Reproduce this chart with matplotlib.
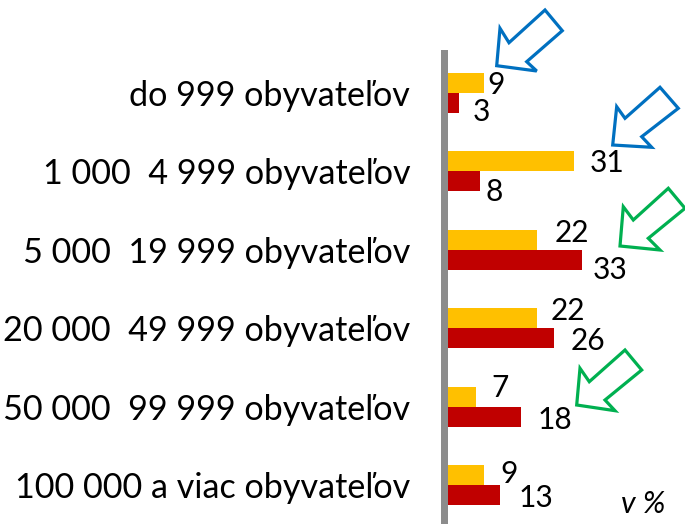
import matplotlib
matplotlib.use('Agg')
import matplotlib.pyplot as plt
from matplotlib.patches import Polygon

# kategorie (velkost obce) a hodnoty v %
kategorie = ['do 999 obyvateľov', '1 000  4 999 obyvateľov', '5 000  19 999 obyvateľov',
             '20 000  49 999 obyvateľov', '50 000  99 999 obyvateľov', '100 000 a viac obyvateľov']
oranzova = [9, 31, 22, 22, 7, 9]
cervena = [3, 8, 33, 26, 18, 13]

# posuny popiskov v pixeloch (x medzera, y baseline pod stredom stlpca)
or_dx = [3, 16, 17, 13, 16, 16]
or_dy = [11, 11, 2, 2, 0, 8]
cv_dx = [13, 6, 10, 17, 17, 18]
cv_dy = [18, 20, 19, 12, 12, 12]

W, H = 685, 524
FONT = 'Lato'

fig = plt.figure(figsize=(W / 100, H / 100), dpi=100)

# os so stlpcami, nula na x=447 px, 4.1 px na jednotku
sc = 4.1
left_px = 443.5
ax = fig.add_axes([left_px / W, 0, 1 - left_px / W, 1])
ax.set_xlim(-(447 - left_px) / sc, (W - 447) / sc)
top_c, step = 93, 78.4
ax.set_ylim((H - top_c) / step, -top_c / step)

pos = list(range(len(kategorie)))
h = 20 / step
ax.barh([p - h / 2 for p in pos], oranzova, height=h, color='#FFC000', zorder=1)
ax.barh([p + h / 2 for p in pos], cervena, height=h, color='#C00000', zorder=1)

for s in ['top', 'right', 'bottom']:
    ax.spines[s].set_visible(False)
ax.spines['left'].set_color('#8C8C8C')
ax.spines['left'].set_linewidth(7 * 0.72)
ax.spines['left'].set_bounds((53 - top_c) / step, (H - top_c) / step)
ax.set_xticks([])
ax.set_yticks(pos)
ax.set_yticklabels(kategorie, fontsize=24.6, fontfamily=FONT)
ax.tick_params(axis='y', length=0, pad=24)

for i, p in enumerate(pos):
    ax.annotate(str(oranzova[i]), (oranzova[i], p - h / 2), xytext=(or_dx[i], -or_dy[i]),
                textcoords='offset pixels', ha='left', va='baseline', fontsize=21.5, fontfamily=FONT)
    ax.annotate(str(cervena[i]), (cervena[i], p + h / 2), xytext=(cv_dx[i], -cv_dy[i]),
                textcoords='offset pixels', ha='left', va='baseline', fontsize=21.5, fontfamily=FONT)

# prekryvna os pre sipky a poznamku
ov = fig.add_axes([0, 0, 1, 1], facecolor='none')
ov.set_xlim(0, W)
ov.set_ylim(H, 0)
ov.axis('off')

sipky = [
    ([(496.7, 65.7), (500, 28.3), (509, 42.7), (545, 10), (562.3, 30.7), (526.7, 61.7), (536.7, 71)], '#0070C0'),
    ([(612.7, 145), (616.7, 106.7), (625, 118.3), (660, 87.3), (678.3, 108.3), (641.7, 136.7), (651.7, 147.3)], '#0070C0'),
    ([(620, 246), (623.3, 206.7), (633.3, 220), (668.3, 188.3), (685, 208.3), (648.3, 238.3), (660, 250)], '#00B050'),
    ([(576.7, 405), (580, 368.3), (589.3, 381.7), (625, 350), (641.7, 370), (605, 400), (615, 410.7)], '#00B050'),
]
for body, c in sipky:
    ov.add_patch(Polygon(body, closed=True, fill=False, edgecolor=c, linewidth=2.3, joinstyle='miter'))

ov.text(621, 513, 'v %', fontsize=22, fontstyle='italic', fontfamily=FONT, ha='left', va='baseline')

fig.savefig('out.png', dpi=100)
